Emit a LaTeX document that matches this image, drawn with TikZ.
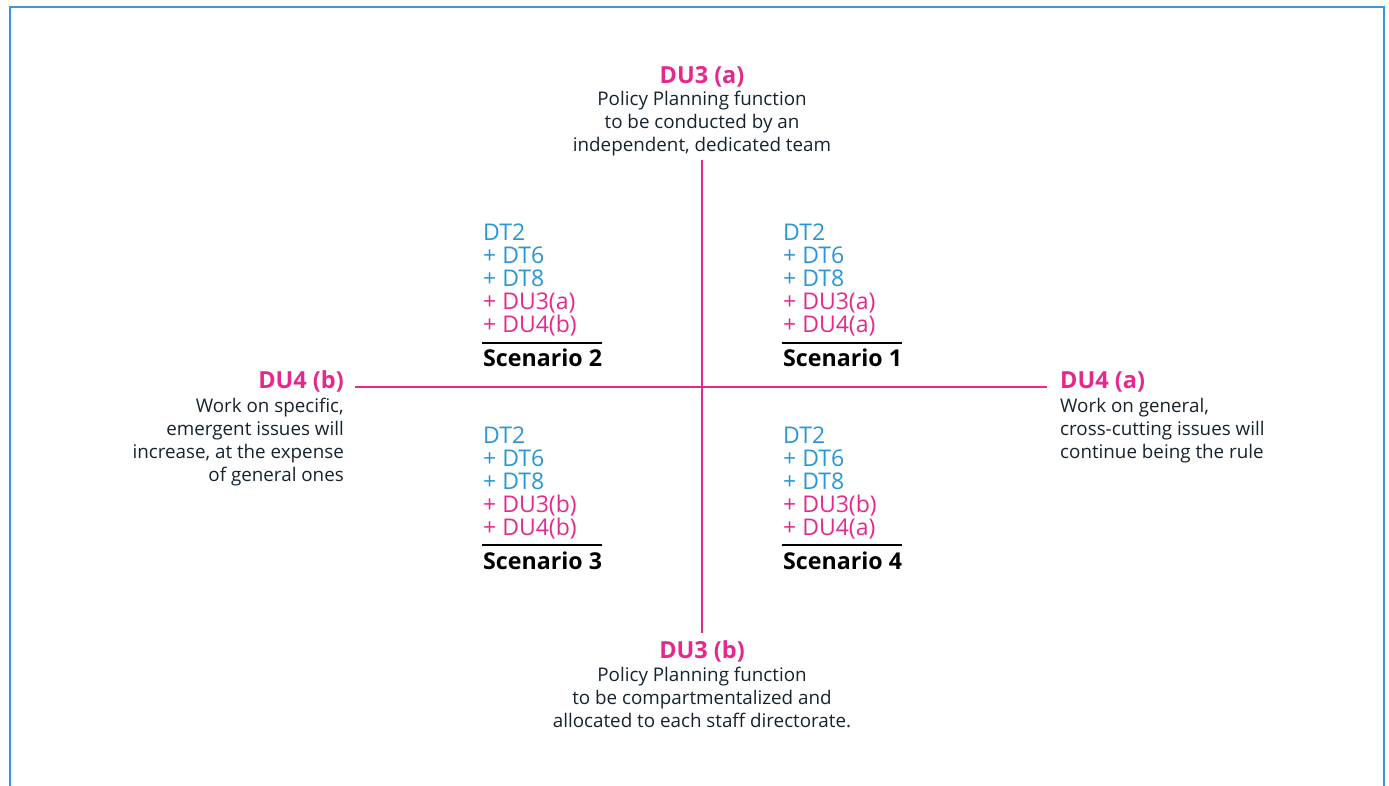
\documentclass[tikz,border=0pt]{standalone}
\usepackage{fontspec}
\setmainfont{Open Sans}
\definecolor{pinkc}{RGB}{230,40,140}
\definecolor{bluec}{RGB}{40,150,215}
\definecolor{framec}{RGB}{60,150,220}
\definecolor{textc}{RGB}{22,34,46}
\tikzset{
  head/.style={text=pinkc, font=\bfseries\fontsize{23.5}{23}\selectfont, inner sep=0pt},
  desc/.style={text=textc, font=\fontsize{18.8}{23}\selectfont, inner sep=0pt},
  lst/.style={font=\fontsize{23}{23}\selectfont, inner sep=0pt, align=left, anchor=base west},
  scen/.style={font=\bfseries\fontsize{23.2}{23}\selectfont, inner sep=0pt, anchor=base west},
  axis/.style={draw=pinkc, line width=1.3pt},
  rulel/.style={draw=black, line width=1.2pt},
}
\newcommand{\bl}[1]{\textcolor{bluec}{#1}}
\newcommand{\pk}[1]{\textcolor{pinkc}{#1}}
\begin{document}
\begin{tikzpicture}[x=1pt,y=-1pt]
\useasboundingbox (0,0) rectangle (1389,786);
\draw[framec, line width=2pt] (9.5,800) -- (9.5,7) -- (1384,7) -- (1384,800);
% axes
\coordinate (top) at (702,160);
\coordinate (bot) at (702,633);
\coordinate (lft) at (355,387);
\coordinate (rgt) at (1047,387);
\draw[axis] (top) -- (bot);
\draw[axis] (lft) -- (rgt);
% top
\node[head, anchor=base] (du3a) at (702,84) {DU3 (a)};
\node[desc, align=center, anchor=base] (du3at) at (702,152) {Policy Planning function\\to be conducted by an\\independent, dedicated team};
% bottom
\node[head, anchor=base] (du3b) at (702,658) {DU3 (b)};
\node[desc, align=center, anchor=base] (du3bt) at (702,727) {Policy Planning function\\to be compartmentalized and\\allocated to each staff directorate.};
% left
\node[head, anchor=base east] (du4b) at (344,388) {DU4 (b)};
\node[desc, align=right, anchor=base east] (du4bt) at (344,481) {Work on specific,\\emergent issues will\\increase, at the expense\\of general ones};
% right
\node[head, anchor=base west] (du4a) at (1060,388) {DU4 (a)};
\node[desc, align=left, anchor=base west] (du4at) at (1060,458) {Work on general,\\cross-cutting issues will\\continue being the rule};
% scenario 2
\node[lst] (s2) at (483,332) {\bl{DT2}\\\bl{+ DT6}\\\bl{+ DT8}\\\pk{+ DU3(a)}\\\pk{+ DU4(b)}};
\node[scen] (s2l) at (483,366) {Scenario 2};
\draw[rulel] (482,343) -- (602,343);
% scenario 1
\node[lst] (s1) at (783,332) {\bl{DT2}\\\bl{+ DT6}\\\bl{+ DT8}\\\pk{+ DU3(a)}\\\pk{+ DU4(a)}};
\node[scen] (s1l) at (783,366) {Scenario 1};
\draw[rulel] (782,343) -- (902,343);
% scenario 3
\node[lst] (s3) at (483,535) {\bl{DT2}\\\bl{+ DT6}\\\bl{+ DT8}\\\pk{+ DU3(b)}\\\pk{+ DU4(b)}};
\node[scen] (s3l) at (483,569) {Scenario 3};
\draw[rulel] (482,545) -- (602,545);
% scenario 4
\node[lst] (s4) at (783,535) {\bl{DT2}\\\bl{+ DT6}\\\bl{+ DT8}\\\pk{+ DU3(b)}\\\pk{+ DU4(a)}};
\node[scen] (s4l) at (783,569) {Scenario 4};
\draw[rulel] (782,545) -- (902,545);
\end{tikzpicture}
\end{document}
